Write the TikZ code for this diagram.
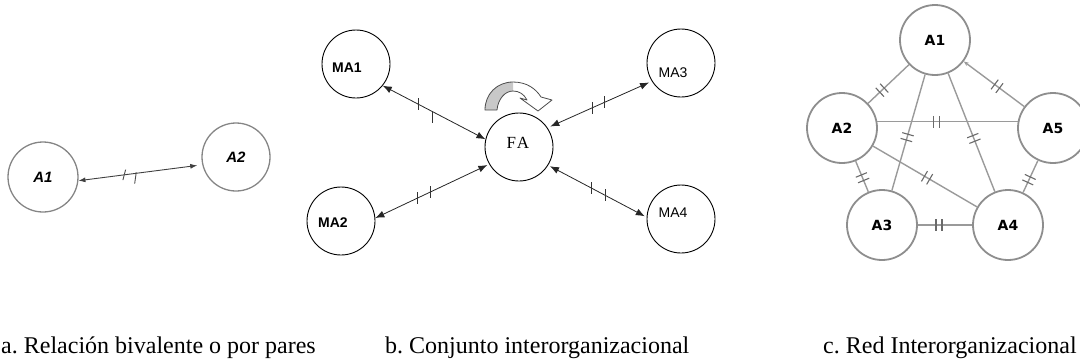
\documentclass[tikz,border=0pt]{standalone}
\usepackage{fontspec}
\setmainfont{Liberation Serif}
\newfontfamily\arialf{Liberation Sans}
\newfontfamily\fafont[LetterSpace=12]{Liberation Serif}
\newfontfamily\dejaf{DejaVu Sans}
\usetikzlibrary{arrows.meta,decorations.markings,calc}
\definecolor{agray}{HTML}{858585}
\definecolor{cgray}{HTML}{8E8E8E}
\definecolor{lgray}{HTML}{9A9A9A}
\definecolor{tgray}{HTML}{6A6A6A}
\definecolor{fillg}{HTML}{C8C8C8}
\frenchspacing
\begin{document}
\begin{tikzpicture}[x=1pt,y=-1pt,
  acirc/.style={circle,draw=agray,line width=1.3pt,minimum size=70pt,inner sep=0pt,
    font=\arialf\bfseries\itshape\fontsize{15}{15}\selectfont},
  bcirc/.style={circle,draw=black,line width=0.9pt,minimum size=68pt,inner sep=0pt},
  ccirc/.style={circle,draw=cgray,line width=1.8pt,minimum size=70pt,inner sep=0pt,
    font=\dejaf\bfseries\fontsize{14}{14}\selectfont},
  blabb/.style={inner sep=0pt,font=\arialf\bfseries\fontsize{14}{14}\selectfont},
  blabr/.style={inner sep=0pt,font=\arialf\fontsize{14}{14}\selectfont},
  capt/.style={anchor=base west,inner sep=0pt,font=\fontsize{24}{28}\selectfont},
  aarrow/.style={{Latex[length=7pt,width=5pt]}-{Latex[length=7pt,width=5pt]},line width=0.9pt,draw=black!75},
  barrow/.style={{Latex[length=9pt,width=7pt]}-{Latex[length=9pt,width=7pt]},line width=0.8pt,draw=black!85},
  cedge/.style={draw=lgray,line width=1.4pt},
  plainline/.style={-,shorten <=0pt,shorten >=0pt},
  tickb/.style={plainline,draw=black!80,line width=0.8pt},
  tickc/.style={plainline,draw=tgray,line width=1.1pt},
  ticka/.style={plainline,draw=black!70,line width=0.9pt},
  bticks/.style n args={2}{postaction={decorate,decoration={markings,
     mark=at position #1 with {\pgftransformresetnontranslations\draw[tickb] (0,-6)--(0,6);},
     mark=at position #2 with {\pgftransformresetnontranslations\draw[tickb] (0,-6)--(0,6);}}}},
  bticksh/.style n args={2}{postaction={decorate,decoration={markings,
     mark=at position #1 with {\pgftransformresetnontranslations\draw[tickb] (0,-6)--(0,6);},
     mark=at position #2 with {\pgftransformresetnontranslations\draw[tickb] (0,0)--(0,12);}}}},
  dticks/.style={postaction={decorate,decoration={markings,
     mark=at position #1 with {\draw[tickc] (-3,-6)--(-3,6) (3,-6)--(3,6);}}}},
  aticks/.style={postaction={decorate,decoration={markings,
     mark=at position 0.37 with {\draw[ticka] (-2,5)--(2,-5);},
     mark=at position 0.46 with {\draw[ticka] (1,-1)--(-2,10);}}}}
]
\useasboundingbox (0,0) rectangle (1080,360);

% ---------- a ----------
\node[acirc] (a1) at (43,177) {A1};
\node[acirc,minimum size=68pt] (a2) at (236,157) {A2};
\draw[aarrow,aticks,shorten >=5pt] (a1.-6) -- (a2.193);

% ---------- b ----------
\node[bcirc] (ma1) at (356,64) {};
\node[bcirc] (ma3) at (681,63) {};
\node[bcirc] (fa) at (519,147) {};
\node[bcirc] (ma2) at (341,221) {};
\node[bcirc] (ma4) at (681,219) {};
\node[blabb] (ma1t) at (347,68) {MA1};
\node[blabr] (ma3t) at (673,73) {MA3};
\node[blabb] (ma2t) at (333,223) {MA2};
\node[blabr] (ma4t) at (673,213) {MA4};
\node[inner sep=0pt,font=\fafont\fontsize{17}{17}\selectfont] (fat) at (518,143) {FA};

\draw[barrow,bticksh={0.35}{0.48}] (ma1.-39) -- (fa.167);
\draw[barrow,bticks={0.45}{0.57},shorten <=3pt,shorten >=3pt] (ma3.212) -- (fa.34);
\draw[barrow,bticks={0.37}{0.48},shorten >=2pt] (ma2.5) -- (fa.210);
\draw[barrow,bticks={0.42}{0.56},shorten <=2pt,shorten >=2pt] (ma4.177) -- (fa.-32);

% curved block arrow above FA
\fill[fillg] (485,110) .. controls (485,94) and (497,82) .. (513,82)
  -- (513,91) .. controls (505,91) and (498,99) .. (497,110) -- cycle;
\draw[draw=black!70,line width=0.8pt,line join=round]
  (485,110) .. controls (485,94) and (497,82) .. (513,82)
  .. controls (527,82) and (536,89) .. (541,97)
  -- (552,100) -- (538,111) -- (520,98) -- (527,100)
  .. controls (524,94) and (519,91) .. (513,91)
  .. controls (505,91) and (498,99) .. (497,110) -- cycle;

% ---------- c ----------
\node[ccirc] (c1) at (935,40) {A1};
\node[ccirc] (c2) at (842,128) {A2};
\node[ccirc] (c5) at (1053,128) {A5};
\node[ccirc] (c3) at (882,225) {A3};
\node[ccirc] (c4) at (1008,225) {A4};

\draw[cedge,dticks=0.66] (c1) -- (c2);
\draw[cedge,dticks=0.45,-{Stealth[length=5pt,width=4pt]}] (c5) -- (c1);
\draw[cedge,dticks=0.42] (c2.10) -- (c5.170);
\draw[cedge,dticks=0.54] (c1) -- (c3);
\draw[cedge,dticks=0.55] (c1) -- (c4);
\draw[cedge,dticks=0.52] (c2) -- (c4);
\draw[cedge,dticks=0.54] (c2) -- (c3);
\draw[cedge,dticks=0.6] (c5) -- (c4);
\draw[cedge,dticks=0.39] (c3) -- (c4);

% ---------- captions ----------
\node[capt] (capa) at (1,353) {a. Relación bivalente o por pares};
\node[capt] (capb) at (385,353) {b. Conjunto interorganizacional};
\node[capt] (capc) at (823,353) {c. Red Interorganizacional};
\end{tikzpicture}
\end{document}
